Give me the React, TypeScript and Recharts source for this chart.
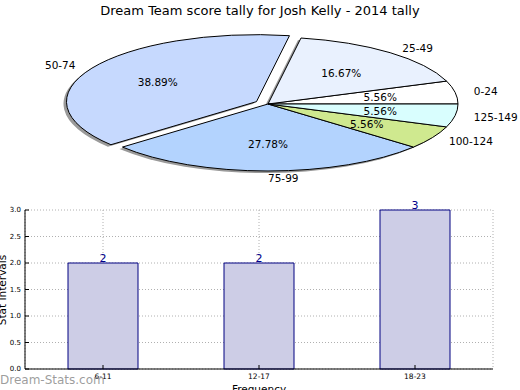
import { PieChart, Pie, Sector, BarChart, Bar, XAxis, YAxis, CartesianGrid, LabelList } from 'recharts'

const SCORE_BANDS = ['0-24', '25-49', '50-74', '75-99', '100-124', '125-149']
const BAND_COUNTS = [1, 3, 7, 5, 1, 1]
const BAND_COLORS = ['#ffffff', '#e9f1fe', '#c6d9fe', '#b3d3fe', '#cfe98f', '#d9fefe']
const BAND_EXPLODE = [0, 0, 0.07, 0, 0, 0]

const FREQ_BINS = ['6-11', '12-17', '18-23']
const FREQ_COUNTS = [2, 2, 3]
const Y_TICKS = [0, 0.5, 1, 1.5, 2, 2.5, 3]

const FONT = '"DejaVu Sans", sans-serif'
// pie is drawn as a circle then squashed vertically into an ellipse
const SQUASH = 67 / 190

const pieData = SCORE_BANDS.map((name, i) => ({
  name,
  value: BAND_COUNTS[i],
  fill: BAND_COLORS[i],
  explode: BAND_EXPLODE[i],
}))

const barData = FREQ_BINS.map((bin, i) => ({ bin, count: FREQ_COUNTS[i] }))

function explodeOf(p: any): number {
  const e = p?.payload?.explode ?? p?.explode
  return typeof e === 'number' ? e : 0
}

function makeSlice(shadow: boolean) {
  return (p: any) => {
    const { cx, cy, innerRadius, outerRadius, startAngle, endAngle, midAngle, fill } = p
    const e = explodeOf(p)
    const rad = (-midAngle * Math.PI) / 180
    const dx = Math.cos(rad) * outerRadius * e + (shadow ? -3 : 0)
    const dy = Math.sin(rad) * outerRadius * e * SQUASH + (shadow ? 2 : 0)
    return (
      <g transform={`translate(${dx} ${dy}) translate(0 ${cy}) scale(1 ${SQUASH}) translate(0 ${-cy})`}>
        <Sector
          cx={cx}
          cy={cy}
          innerRadius={innerRadius}
          outerRadius={outerRadius}
          startAngle={startAngle}
          endAngle={endAngle}
          fill={shadow ? '#9a9a9a' : fill}
          stroke={shadow ? 'none' : '#000'}
          strokeWidth={1}
          vectorEffect="non-scaling-stroke"
        />
      </g>
    )
  }
}

const drawSlice = makeSlice(false)
const drawShadow = makeSlice(true)

function renderPieLabel(p: any) {
  const { cx, cy, midAngle, outerRadius, percent, name } = p
  const e = explodeOf(p)
  const rad = (-midAngle * Math.PI) / 180
  const c = Math.cos(rad)
  const s = Math.sin(rad)
  const lx = cx + c * outerRadius * (1.1 + e)
  const ly = cy + s * outerRadius * SQUASH * (1.1 + e)
  const px = cx + c * outerRadius * (0.6 + e)
  const py = cy + s * outerRadius * SQUASH * (0.6 + e)
  return (
    <g fontFamily={FONT} fontSize={10.5} fill="#000">
      <text x={lx} y={ly} textAnchor={c > -1e-6 ? 'start' : 'end'} dominantBaseline="central">
        {name}
      </text>
      <text x={px} y={py} textAnchor="middle" dominantBaseline="central">
        {(percent * 100).toFixed(2)}%
      </text>
    </g>
  )
}

const axisTick = { fontSize: 7, fill: '#000', fontFamily: FONT }

export default function App() {
  return (
    <div style={{ position: 'absolute', left: 0, top: 0, width: 520, height: 390, overflow: 'hidden', background: '#fff' }}>
      <div style={{ position: 'absolute', left: 0, top: 0 }}>
        <PieChart width={520} height={195}>
          <Pie
            data={pieData}
            dataKey="value"
            nameKey="name"
            cx={263}
            cy={99}
            outerRadius={190}
            startAngle={0}
            endAngle={360}
            stroke="none"
            shape={drawShadow}
            inactiveShape={drawShadow}
            activeShape={drawShadow}
            isAnimationActive={false}
          />
          <Pie
            data={pieData}
            dataKey="value"
            nameKey="name"
            cx={263}
            cy={99}
            outerRadius={190}
            startAngle={0}
            endAngle={360}
            shape={drawSlice}
            inactiveShape={drawSlice}
            activeShape={drawSlice}
            label={renderPieLabel}
            labelLine={false}
            isAnimationActive={false}
          />
        </PieChart>
      </div>
      <div style={{ position: 'absolute', left: 0, top: 200 }}>
        <BarChart width={520} height={190} data={barData} margin={{ top: 10, right: 27, bottom: 0, left: 0 }}>
          <XAxis
            dataKey="bin"
            height={21}
            interval={0}
            tickSize={-4}
            tickMargin={9}
            tick={{ ...axisTick, fontSize: 7.5 }}
            axisLine={{ stroke: '#000' }}
            tickLine={{ stroke: '#000' }}
          />
          <XAxis xAxisId="top" dataKey="bin" orientation="top" height={0} tick={false} tickSize={-4} axisLine={{ stroke: '#000' }} tickLine={{ stroke: '#000' }} />
          <YAxis
            domain={[0, 3]}
            ticks={Y_TICKS}
            width={25}
            tickSize={-4}
            tickMargin={8}
            tick={axisTick}
            tickFormatter={(v: number) => v.toFixed(1)}
            axisLine={{ stroke: '#000' }}
            tickLine={{ stroke: '#000' }}
          />
          <YAxis yAxisId="right" orientation="right" domain={[0, 3]} ticks={Y_TICKS} width={0} tick={false} tickSize={-4} axisLine={{ stroke: '#000' }} tickLine={{ stroke: '#000' }} />
          <Bar dataKey="count" barSize={70} fill="#cdcde6" stroke="#000080" strokeWidth={1} isAnimationActive={false}>
            <LabelList dataKey="count" position="top" offset={1} fill="#00008b" fontSize={11} fontFamily={FONT} />
          </Bar>
          <CartesianGrid strokeDasharray="1 2" stroke="#b0b0b0" />
        </BarChart>
      </div>
      <svg width={520} height={390} style={{ position: 'absolute', left: 0, top: 0, pointerEvents: 'none' }} fontFamily={FONT}>
        <text x={260} y={10} textAnchor="middle" dominantBaseline="central" fontSize={13} fill="#000">
          Dream Team score tally for Josh Kelly - 2014 tally
        </text>
        <text x={2} y={290} transform="rotate(-90 2 290)" textAnchor="middle" dominantBaseline="central" fontSize={10.5} fill="#000">
          Stat Intervals
        </text>
        <text x={259} y={389} textAnchor="middle" dominantBaseline="central" fontSize={10.5} fill="#000">
          Frequency
        </text>
        <text x={0} y={380} dominantBaseline="central" fontSize={12} fill="#8c8c8c" fillOpacity={0.85}>
          Dream-Stats.com
        </text>
      </svg>
    </div>
  )
}
